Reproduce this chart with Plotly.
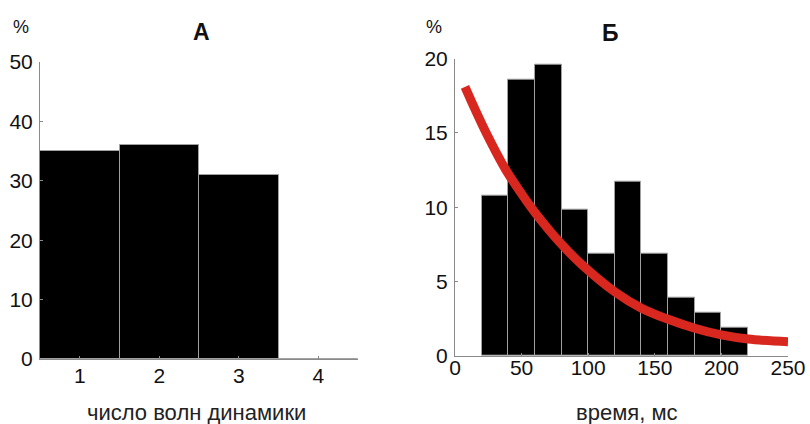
import plotly.graph_objects as go

W, H = 810, 424

# Panel A data
a_categories = [1, 2, 3, 4]
a_values = [35, 36, 31, 0]
a_yticks = [0, 10, 20, 30, 40, 50]

# Panel B data
b_bin_left = [20, 40, 60, 80, 100, 120, 140, 160, 180, 200]
b_values = [10.8, 18.6, 19.6, 9.8, 6.9, 11.7, 6.9, 3.9, 2.9, 1.9]
b_bin_width = 20
b_curve_x = [7.5, 15, 24, 37.6, 50, 60, 80, 95, 120, 140, 160, 180, 200, 220, 250]
b_curve_y = [18.1, 16.6, 14.9, 12.6, 10.9, 9.65, 7.5, 6.15, 4.3, 3.2, 2.45, 1.85, 1.4, 1.12, 0.94]
b_xticks = [0, 50, 100, 150, 200, 250]
b_yticks = [0, 5, 10, 15, 20]

FONT = "Liberation Sans, Arial, sans-serif"
AXIS_GRAY = "#8a8a8a"
BAR_EDGE = "#a0a0a0"

def px_x(p):
    return p / W

def px_y(p):
    return 1 - p / H

fig = go.Figure()

fig.add_trace(go.Bar(
    x=a_categories, y=a_values, width=1.0,
    marker=dict(color="black", line=dict(color=BAR_EDGE, width=1)),
    xaxis="x", yaxis="y", showlegend=False,
))

fig.add_trace(go.Bar(
    x=b_bin_left, y=b_values, width=b_bin_width, offset=0,
    marker=dict(color="black", line=dict(color=BAR_EDGE, width=1)),
    xaxis="x2", yaxis="y2", showlegend=False,
))

fig.add_trace(go.Scatter(
    x=b_curve_x, y=b_curve_y, mode="lines",
    line=dict(color="#d8271f", width=9, shape="spline", smoothing=1.0),
    xaxis="x2", yaxis="y2", showlegend=False,
))

axis_common = dict(
    showgrid=False, zeroline=False, showline=True, linecolor=AXIS_GRAY, linewidth=1,
    ticks="inside", ticklen=3, tickcolor=AXIS_GRAY, tickwidth=1,
    tickfont=dict(family=FONT, size=21, color="#111111"), mirror=False,
    automargin=False,
)

fig.update_layout(
    width=W, height=H,
    margin=dict(l=0, r=0, t=0, b=0, pad=0, autoexpand=False),
    paper_bgcolor="white", plot_bgcolor="white",
    bargap=0,
    xaxis=dict(domain=[px_x(40), px_x(358)], range=[0.5, 4.5], tickvals=a_categories,
               anchor="y", ticklabelstandoff=-2, **axis_common),
    yaxis=dict(domain=[px_y(359), px_y(62)], range=[0, 50], tickvals=a_yticks,
               anchor="x", ticklabelstandoff=2, **axis_common),
    xaxis2=dict(domain=[px_x(455), px_x(788)], range=[0, 250], tickvals=b_xticks,
                anchor="y2", ticklabelstandoff=-7, **axis_common),
    yaxis2=dict(domain=[px_y(355.7), px_y(58.7)], range=[0, 20], tickvals=b_yticks,
                anchor="x2", ticklabelstandoff=2, **axis_common),
)

def ann(text, x, y, size, bold=False, color="#111111"):
    fig.add_annotation(
        text=f"<b>{text}</b>" if bold else text,
        x=px_x(x), y=px_y(y), xref="paper", yref="paper",
        xanchor="center", yanchor="middle", showarrow=False,
        font=dict(family=FONT, size=size, color=color),
    )

ann("%", 21, 27, 18)
ann("%", 434, 27, 18)
ann("А", 201, 32, 23, bold=True)
ann("Б", 610, 33, 23, bold=True)
ann("число волн динамики", 196, 412, 22, color="#222222")
ann("время, мс", 627, 412, 22, color="#222222")

fig.write_html("out.html")
